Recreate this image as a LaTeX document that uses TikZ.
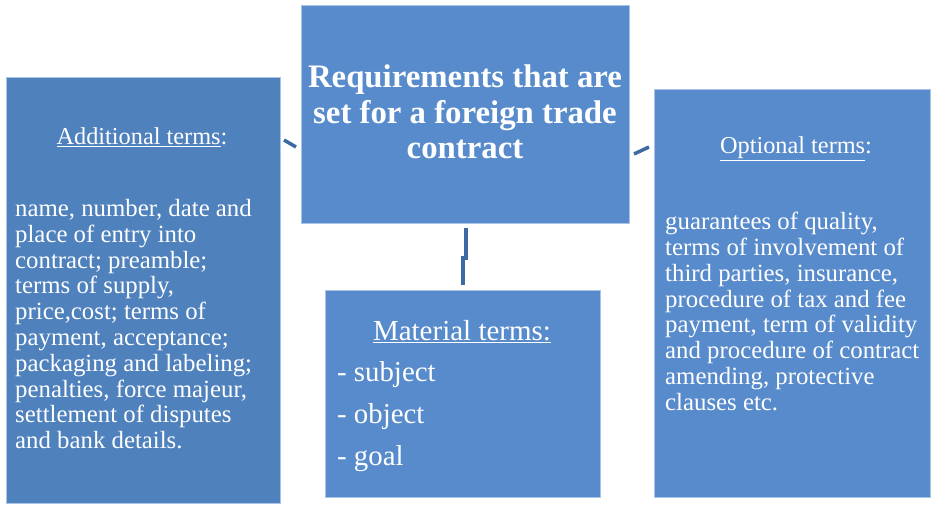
\documentclass[tikz,border=0pt]{standalone}
\usepackage{fontspec}
\setmainfont{Liberation Serif}
\definecolor{boxA}{HTML}{4F81BD}
\definecolor{boxB}{HTML}{588BCB}
\definecolor{boxedge}{HTML}{A9C4E6}
\definecolor{linkc}{HTML}{3D6AA5}
\begin{document}
\begin{tikzpicture}[x=1pt,y=-1pt,
  box/.style={draw=boxedge, line width=0.8pt, fill=#1, inner sep=0pt, anchor=north west},
  wtext/.style={text=white, inner sep=0pt},
  bodytext/.style={wtext, anchor=north west, align=left, font=\fontsize{24.8}{25.8}\selectfont},
  headtext/.style={wtext, font=\fontsize{24.3}{25.8}\selectfont},
  link/.style={draw=linkc, line width=3.5pt}]
\useasboundingbox (0,0) rectangle (937,507);

% boxes
\node[box=boxA, minimum width=274pt, minimum height=426pt] (left) at (6,77) {};
\node[box=boxB, minimum width=328pt, minimum height=218pt] (top) at (301,5) {};
\node[box=boxB, minimum width=275pt, minimum height=207pt] (mid) at (325,290) {};
\node[box=boxB, minimum width=276pt, minimum height=408pt] (right) at (654,89) {};

% title
\node[wtext, align=center, font=\bfseries\fontsize{32.8}{35.5}\selectfont] (title) at (465,112)
  {Requirements that are\\set for a foreign trade\\contract};

% left
\node[headtext] (lhead) at (142,137) {\underline{Additional terms}:};
\node[bodytext] (lbody) at (15,199) {name, number, date and\\place of entry into\\contract; preamble;\\terms of supply,\\price,cost; terms of\\payment, acceptance;\\packaging and labeling;\\penalties, force majeur,\\settlement of disputes\\and bank details.};

% right
\node[headtext] (rhead) at (796,149) {\underline{Optional terms}:};
\node[bodytext] (rbody) at (665,212) {guarantees of quality,\\terms of involvement of\\third parties, insurance,\\procedure of tax and fee\\payment, term of validity\\and procedure of contract\\amending, protective\\clauses etc.};

% middle
\node[wtext, font=\fontsize{29}{30}\selectfont] (mhead) at (462,332) {\underline{Material terms:}};
\node[wtext, anchor=north west, align=left, font=\fontsize{28.8}{42}\selectfont] (mbody) at (337,361) {- subject\\- object\\- goal};

% connectors
\coordinate (l1) at (284,140);
\coordinate (l2) at (296,147);
\coordinate (r1) at (634,154);
\coordinate (r2) at (649,147);
\coordinate (m1) at (466,228);
\coordinate (m2) at (463,285);
\draw[link] (l1) -- (l2);
\draw[link] (r1) -- (r2);
\draw[link] (m1) -- (466,258) -- (463,258) -- (m2);
\end{tikzpicture}
\end{document}
